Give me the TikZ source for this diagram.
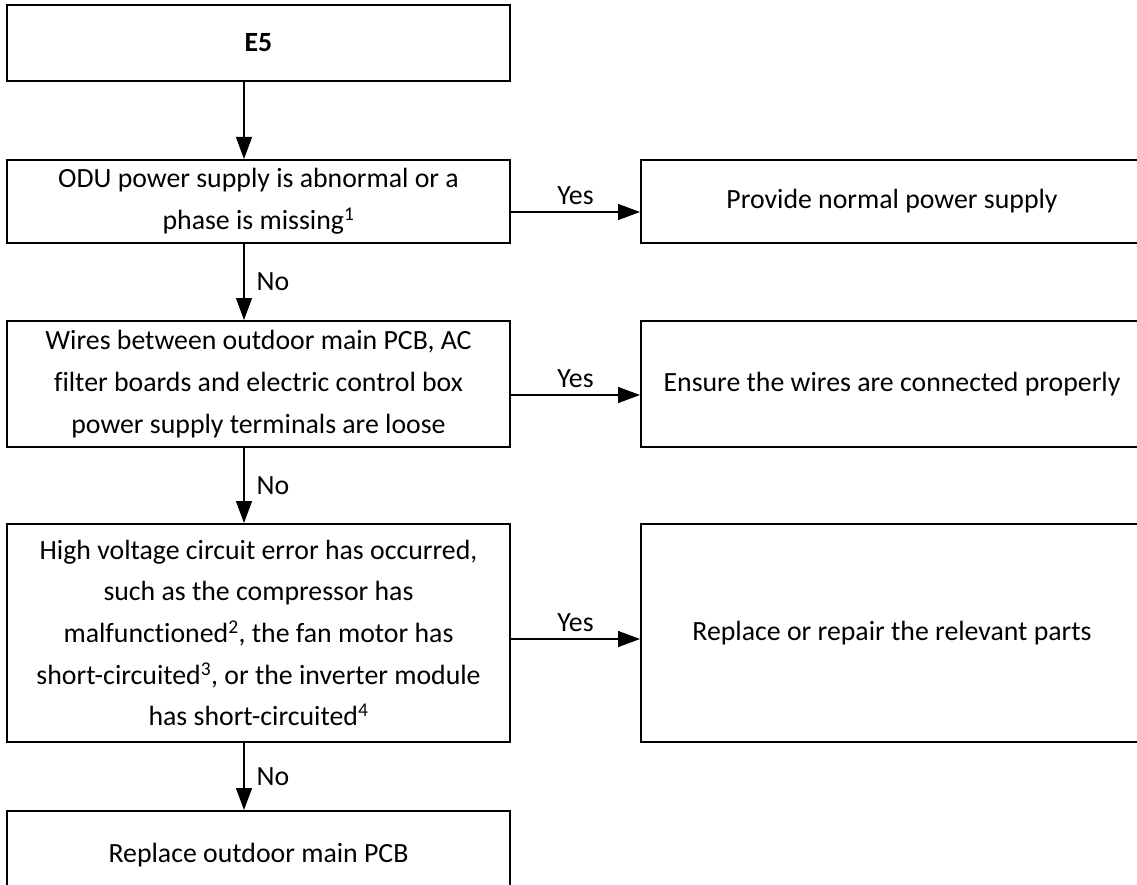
\documentclass[tikz,border=0pt]{standalone}
\usepackage{fontspec}
\setmainfont[Ligatures=NoCommon]{Carlito}
\usetikzlibrary{arrows.meta}
\begin{document}
\begin{tikzpicture}[x=1pt,y=-1pt,
  box/.style={draw, line width=2pt, align=center, inner sep=0pt, font=\fontsize{27.8}{41.7}\selectfont},
  lbox/.style={box, minimum width=503pt},
  rbox/.style={box, minimum width=540pt},
  arr/.style={line width=1.3pt, -{Triangle[length=22pt,width=16pt]}},
  lab/.style={font=\fontsize{27.8}{32}\selectfont, inner sep=0pt}]
\useasboundingbox (0,0) rectangle (1137,885);
\clip (0,0) rectangle (1137,885);

\node[lbox, minimum height=76pt] (e5) at (258.5,43) {\textbf{E5}};
\node[lbox, minimum height=83pt] (q1) at (258.5,201.5) {ODU power supply is abnormal or a\\phase is missing\textsuperscript{1}};
\node[rbox, minimum height=83pt] (r1) at (911,201.5) {Provide normal power supply\hspace*{38pt}};
\node[lbox, minimum height=126pt] (q2) at (258.5,384) {Wires between outdoor main PCB, AC\\filter boards and electric control box\\power supply terminals are loose};
\node[rbox, minimum height=126pt] (r2) at (911,384) {Ensure the wires are connected properly\hspace*{38pt}};
\node[lbox, minimum height=218pt] (q3) at (258.5,633) {High voltage circuit error has occurred,\\such as the compressor has\\malfunctioned\textsuperscript{2}, the fan motor has\\short-circuited\textsuperscript{3}, or the inverter module\\has short-circuited\textsuperscript{4}};
\node[rbox, minimum height=218pt] (r3) at (911,633) {Replace or repair the relevant parts\hspace*{38pt}};
\node[lbox, minimum height=89pt] (q4) at (258.5,855.5) {Replace outdoor main PCB};

\draw[arr] ([xshift=-14.5pt]e5.south) -- ([xshift=-14.5pt]q1.north);
\draw[arr] ([xshift=-14.5pt]q1.south) -- node[midway, right=12pt, lab] {No} ([xshift=-14.5pt]q2.north);
\draw[arr] ([xshift=-14.5pt]q2.south) -- node[midway, right=12pt, lab] {No} ([xshift=-14.5pt]q3.north);
\draw[arr] ([xshift=-14.5pt]q3.south) -- node[midway, right=12pt, lab] {No} ([xshift=-14.5pt]q4.north);

\draw[arr] ([yshift=-10.5pt]q1.east) -- node[midway, above=7pt, lab] {Yes} ([yshift=-10.5pt]r1.west);
\draw[arr] ([yshift=-11pt]q2.east) -- node[midway, above=7pt, lab] {Yes} ([yshift=-11pt]r2.west);
\draw[arr] ([yshift=-6pt]q3.east) -- node[midway, above=7pt, lab] {Yes} ([yshift=-6pt]r3.west);
\end{tikzpicture}
\end{document}
